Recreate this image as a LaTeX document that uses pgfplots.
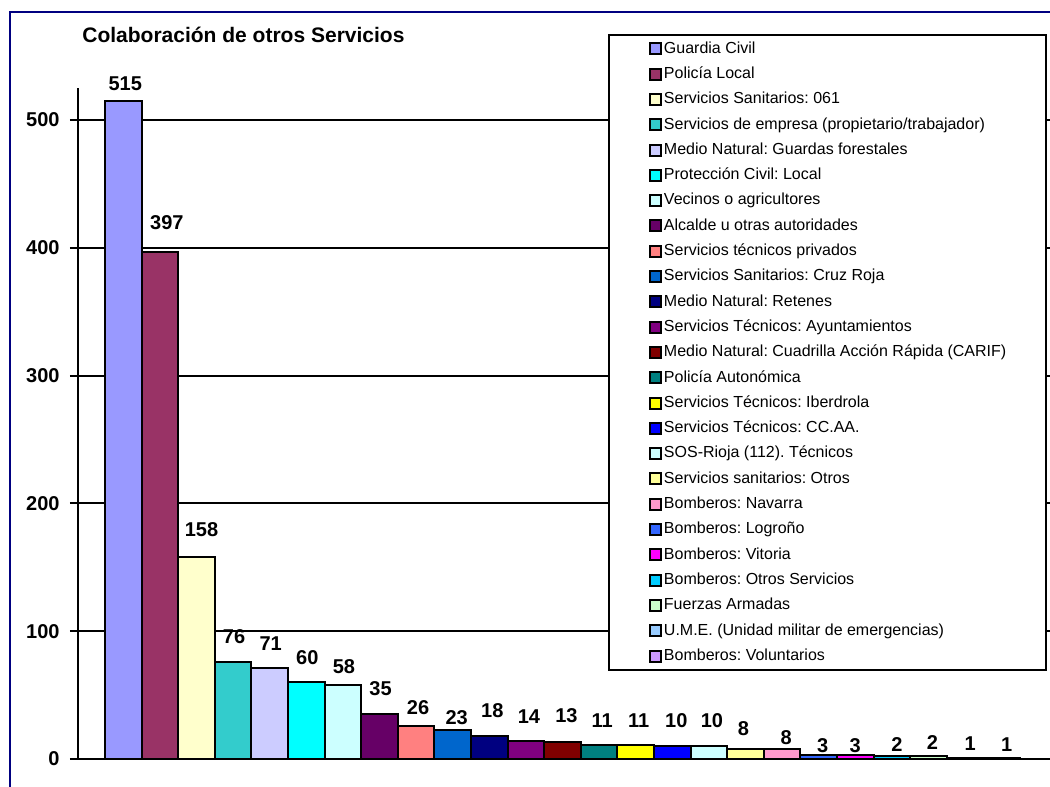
\documentclass[border=0pt]{standalone}
\usepackage{fontspec}
\setmainfont{Liberation Sans}
\usepackage{pgfplots}
\pgfplotsset{compat=1.18}
\frenchspacing
\definecolor{frame}{HTML}{000080}
\definecolor{c0}{HTML}{9999FF}
\definecolor{c1}{HTML}{993366}
\definecolor{c2}{HTML}{FFFFCC}
\definecolor{c3}{HTML}{33CCCC}
\definecolor{c4}{HTML}{CCCCFF}
\definecolor{c5}{HTML}{00FFFF}
\definecolor{c6}{HTML}{CCFFFF}
\definecolor{c7}{HTML}{660066}
\definecolor{c8}{HTML}{FF8080}
\definecolor{c9}{HTML}{0066CC}
\definecolor{c10}{HTML}{000080}
\definecolor{c11}{HTML}{800080}
\definecolor{c12}{HTML}{800000}
\definecolor{c13}{HTML}{008080}
\definecolor{c14}{HTML}{FFFF00}
\definecolor{c15}{HTML}{0000FF}
\definecolor{c16}{HTML}{CCFFFF}
\definecolor{c17}{HTML}{FFFF99}
\definecolor{c18}{HTML}{FF99CC}
\definecolor{c19}{HTML}{3366FF}
\definecolor{c20}{HTML}{FF00FF}
\definecolor{c21}{HTML}{00CCFF}
\definecolor{c22}{HTML}{CCFFCC}
\definecolor{c23}{HTML}{99CCFF}
\definecolor{c24}{HTML}{CC99FF}
\pgfplotsset{
  mybar/.style={draw=black, line width=1pt, fill=#1,
    legend image code/.code={\draw[draw=black, line width=1pt, fill=#1] (0pt,-2.75pt) rectangle (5.5pt,2.75pt); \path (6.6pt,0pt);}},
}
% #1 x, #2 value, #3 colour, #4 label dy (px), #5 label dx (px), #6 legend text
\newcommand\mybar[6]{%
  \addplot[mybar=#3, nodes near coords,
    every node near coord/.append style={anchor=south, inner sep=0pt,
      yshift=#4*0.5pt-3.6pt, xshift=#5*0.5pt,
      font=\bfseries\fontsize{10}{12}\selectfont, text=black}]
    coordinates {(#1,#2)};
  \addlegendentry{#6}}
\begin{document}
\begin{tikzpicture}
\path[use as bounding box] (0,0) rectangle (525pt,393.5pt);
\begin{axis}[
  at={(39pt,14pt)}, anchor=south west,
  scale only axis, width=486pt, height=335.5pt,
  xmin=-1.238, xmax=25.32, ymin=0, ymax=525,
  ybar, bar width=1, bar shift=0pt,
  axis x line=bottom, axis y line=left,
  axis line style={-, line width=1.2pt, black},
  xtick=\empty,
  ytick={0,100,200,300,400,500},
  ymajorgrids, major grid style={black, line width=1pt},
  tick align=outside, major tick length=4pt,
  tick style={black, line width=1pt},
  /pgf/number format/assume math mode=true,
  yticklabel style={font=\bfseries\fontsize{10}{12}\selectfont, anchor=east, inner sep=0pt, xshift=-5pt},
  title={Colaboración de otros Servicios},
  title style={at={(0.0041,1.061)}, anchor=west, inner sep=0pt, font=\bfseries\fontsize{10.5}{12}\selectfont},
  clip=false,
  legend style={
    at={(0.5453,1.0805)}, anchor=north west,
    draw=black, line width=1pt, fill=white,
    font=\fontsize{8}{9.6}\selectfont,
    cells={anchor=west},
    row sep=4.95pt,
    inner ysep=3.1pt,
    minimum width=218.5pt,
    nodes={inner sep=0pt, minimum width=0pt, text height=6pt, text depth=1.7pt},
  },
  legend cell align=left,
]
\mybar{0}{515}{c0}{16}{2}{Guardia Civil}
\mybar{1}{397}{c1}{28}{7}{Policía Local}
\mybar{2}{158}{c2}{27}{5}{Servicios Sanitarios: 061}
\mybar{3}{76}{c3}{24}{1}{Servicios de empresa (propietario/trabajador)}
\mybar{4}{71}{c4}{24}{1}{Medio Natural: Guardas forestales}
\mybar{5}{60}{c5}{24}{1}{Protección Civil: Local}
\mybar{6}{58}{c6}{17}{1}{Vecinos o agricultores}
\mybar{7}{35}{c7}{25}{1}{Alcalde u otras autoridades}
\mybar{8}{26}{c8}{17}{2}{Servicios técnicos privados}
\mybar{9}{23}{c9}{11}{4}{Servicios Sanitarios: Cruz Roja}
\mybar{10}{18}{c10}{24}{3}{Medio Natural: Retenes}
\mybar{11}{14}{c11}{24}{3}{Servicios Técnicos: Ayuntamientos}
\mybar{12}{13}{c12}{26}{4}{Medio Natural: Cuadrilla Acción Rápida (CARIF)}
\mybar{13}{11}{c13}{24}{3}{Policía Autonómica}
\mybar{14}{11}{c14}{24}{3}{Servicios Técnicos: Iberdrola}
\mybar{15}{10}{c15}{25}{4}{Servicios Técnicos: CC.AA.}
\mybar{16}{10}{c16}{25}{3}{SOS-Rioja (112). Técnicos}
\mybar{17}{8}{c17}{19}{-2}{Servicios sanitarios: Otros}
\mybar{18}{8}{c18}{10}{4}{Bomberos: Navarra}
\mybar{19}{3}{c19}{9}{4}{Bomberos: Logroño}
\mybar{20}{3}{c20}{9}{0}{Bomberos: Vitoria}
\mybar{21}{2}{c21}{11}{5}{Bomberos: Otros Servicios}
\mybar{22}{2}{c22}{13}{4}{Fuerzas Armadas}
\mybar{23}{1}{c23}{13}{5}{U.M.E. (Unidad militar de emergencias)}
\mybar{24}{1}{c24}{12}{5}{Bomberos: Voluntarios}
\end{axis}
\draw[frame, line width=1pt] (5pt,-5pt) -- (5pt,387.5pt) -- (530pt,387.5pt);
\end{tikzpicture}
\end{document}
